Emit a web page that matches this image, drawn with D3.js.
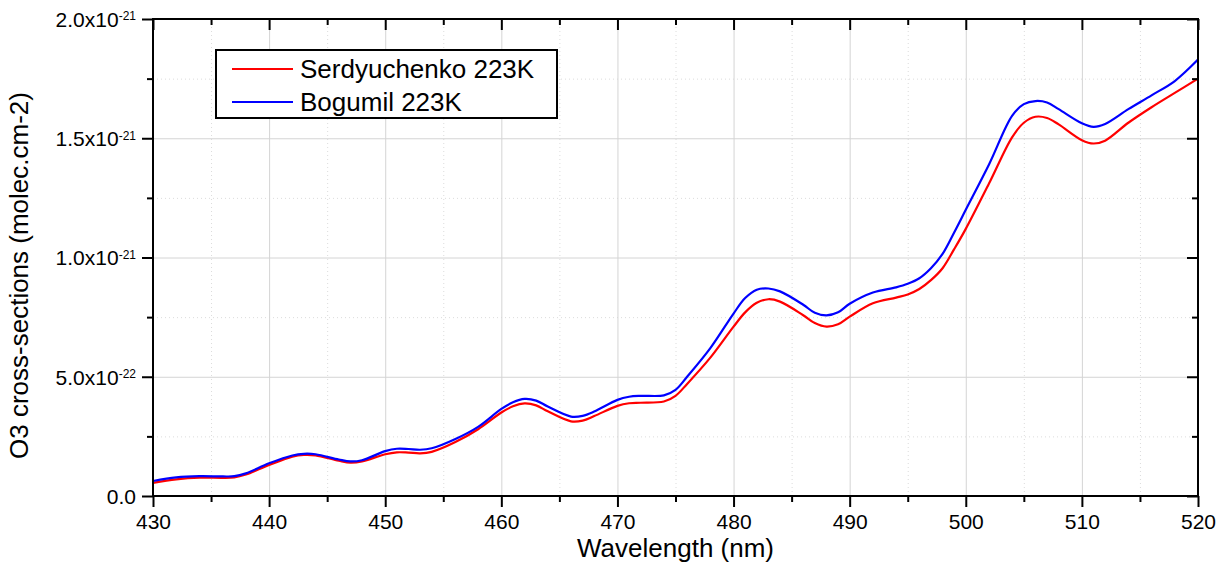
<!DOCTYPE html>
<html lang="en">

<head>
  <meta charset="UTF-8">
  <title>O3 cross-sections</title>
  <script src="https://d3js.org/d3.v7.min.js"></script>
  <style>
    body {
      margin: 0;
      background: #fff;
    }

    text {
      font-family: "Liberation Sans", Arial, sans-serif;
      fill: #000;
    }

    .grid-major line {
      stroke: #d4d4d4;
      stroke-width: 1;
    }

    .grid-minor line {
      stroke: #dcdcdc;
      stroke-width: 1;
      stroke-dasharray: 1, 3;
    }

    .axis path {
      display: none;
    }

    .axis line {
      stroke: #000;
      stroke-width: 2;
    }

    .axis text {
      font-size: 21px;
    }
  </style>
</head>

<body>
  <div id="chart"></div>
  <script>
    // wavelength in nm, cross-sections in units of 1e-21 molec.cm-2
    var wavelengths = [430, 432, 434, 436, 437, 438, 440, 442, 443, 444, 446, 447, 448, 450, 451, 452, 453, 454, 456, 458,
      460, 461, 462, 463, 464, 466, 467, 468, 470, 471, 472, 474, 475, 476, 478, 480, 481, 482, 483, 484,
      486, 487, 488, 489, 490, 492, 494, 495, 496, 497, 498, 499, 500, 502, 504, 505, 506, 507, 508, 510, 511,
      512, 514, 516, 518, 520];

    var serdyuchenko = [0.055, 0.070, 0.077, 0.076, 0.078, 0.090, 0.130, 0.165, 0.172, 0.170, 0.148, 0.140, 0.145, 0.175, 0.183, 0.182, 0.179, 0.185, 0.225, 0.280,
      0.350, 0.376, 0.388, 0.380, 0.355, 0.313, 0.316, 0.335, 0.378, 0.389, 0.391, 0.396, 0.420, 0.470, 0.580, 0.710, 0.770, 0.810, 0.825, 0.815,
      0.758, 0.725, 0.710, 0.720, 0.752, 0.808, 0.832, 0.845, 0.868, 0.905, 0.955, 1.035, 1.120, 1.310, 1.505, 1.565, 1.590, 1.585, 1.558, 1.492, 1.478,
      1.490, 1.565, 1.630, 1.690, 1.750];

    var bogumil = [0.063, 0.078, 0.083, 0.082, 0.083, 0.095, 0.137, 0.170, 0.177, 0.175, 0.153, 0.145, 0.150, 0.188, 0.198, 0.197, 0.194, 0.200, 0.238, 0.290,
      0.365, 0.393, 0.407, 0.400, 0.375, 0.333, 0.336, 0.354, 0.403, 0.416, 0.420, 0.422, 0.445, 0.500, 0.620, 0.765, 0.830, 0.865, 0.870, 0.858,
      0.802, 0.768, 0.757, 0.770, 0.806, 0.853, 0.875, 0.890, 0.913, 0.955, 1.015, 1.105, 1.200, 1.390, 1.595, 1.643, 1.656, 1.650, 1.622, 1.563, 1.548,
      1.560, 1.622, 1.680, 1.740, 1.830];

    var seriesNames = ["Serdyuchenko 223K", "Bogumil 223K"];
    var seriesColors = ["#ff0000", "#0000ff"];

    var xMajor = [430, 440, 450, 460, 470, 480, 490, 500, 510, 520];
    var xMinor = [435, 445, 455, 465, 475, 485, 495, 505, 515];
    var yMajor = [0, 0.5, 1.0, 1.5, 2.0];
    var yMinor = [0.25, 0.75, 1.25, 1.75];
    var yLabels = [["0.0", ""], ["5.0x10", "-22"], ["1.0x10", "-21"], ["1.5x10", "-21"], ["2.0x10", "-21"]];

    var margin = { top: 19, right: 18, bottom: 69, left: 153 },
      width = 1216 - margin.left - margin.right,
      height = 565 - margin.top - margin.bottom;

    var x = d3.scaleLinear().domain([430, 520]).range([0, width]);
    var y = d3.scaleLinear().domain([0, 2.0]).range([height, 0]);

    var svg = d3.select("#chart").append("svg")
      .attr("width", 1216)
      .attr("height", 565)
      .append("g")
      .attr("transform", "translate(" + margin.left + "," + margin.top + ")");

    // grid lines
    svg.append("g").attr("class", "grid-minor")
      .call(d3.axisBottom(x).tickValues(xMinor).tickSize(height).tickFormat(""))
      .select(".domain").remove();
    svg.append("g").attr("class", "grid-minor")
      .call(d3.axisLeft(y).tickValues(yMinor).tickSize(-width).tickFormat(""))
      .select(".domain").remove();
    svg.append("g").attr("class", "grid-major")
      .call(d3.axisBottom(x).tickValues(xMajor.slice(1, -1)).tickSize(height).tickFormat(""))
      .select(".domain").remove();
    svg.append("g").attr("class", "grid-major")
      .call(d3.axisLeft(y).tickValues(yMajor.slice(1, -1)).tickSize(-width).tickFormat(""))
      .select(".domain").remove();

    // curves
    var series = [serdyuchenko, bogumil];
    var line = d3.line()
      .x(function (d) { return x(d[0]); })
      .y(function (d) { return y(d[1]); })
      .curve(d3.curveCatmullRom.alpha(0.5));

    series.forEach(function (vals, k) {
      var pts = wavelengths.map(function (w, i) { return [w, vals[i]]; });
      svg.append("path")
        .datum(pts)
        .attr("fill", "none")
        .attr("stroke", seriesColors[k])
        .attr("stroke-width", 2.2)
        .attr("stroke-linejoin", "round")
        .attr("d", line);
    });

    // axes: major + minor ticks, outward on bottom/left, inward on top/right
    svg.append("g").attr("class", "axis")
      .attr("transform", "translate(0," + height + ")")
      .call(d3.axisBottom(x).tickValues(xMinor).tickSize(6).tickFormat(""));
    svg.append("g").attr("class", "axis")
      .attr("transform", "translate(0," + height + ")")
      .call(d3.axisBottom(x).tickValues(xMajor).tickSize(11).tickPadding(7).tickFormat(d3.format("d")));
    svg.append("g").attr("class", "axis")
      .call(d3.axisTop(x).tickValues(xMinor).tickSize(-6).tickFormat(""));
    svg.append("g").attr("class", "axis")
      .call(d3.axisTop(x).tickValues(xMajor).tickSize(-11).tickFormat(""));

    svg.append("g").attr("class", "axis")
      .call(d3.axisLeft(y).tickValues(yMinor).tickSize(6).tickFormat(""));
    var yAx = svg.append("g").attr("class", "axis")
      .call(d3.axisLeft(y).tickValues(yMajor).tickSize(11).tickPadding(17).tickFormat(""));
    svg.append("g").attr("class", "axis")
      .attr("transform", "translate(" + width + ",0)")
      .call(d3.axisRight(y).tickValues(yMinor).tickSize(-6).tickFormat(""));
    svg.append("g").attr("class", "axis")
      .attr("transform", "translate(" + width + ",0)")
      .call(d3.axisRight(y).tickValues(yMajor).tickSize(-11).tickFormat(""));

    // y tick labels with superscript exponent
    yAx.selectAll(".tick text").each(function (d) {
      var t = d3.select(this).attr("x", -17).attr("dy", "0.35em");
      var lab = yLabels[yMajor.indexOf(d)];
      t.append("tspan").text(lab[0]);
      if (lab[1]) {
        t.append("tspan").attr("dy", "-0.55em").attr("font-size", "12px").text(lab[1]);
      }
    });

    // frame
    svg.append("rect")
      .attr("x", 0).attr("y", 0)
      .attr("width", width).attr("height", height)
      .attr("fill", "none")
      .attr("stroke", "#000")
      .attr("stroke-width", 2);

    // axis titles
    svg.append("text")
      .attr("x", width / 2)
      .attr("y", height + 61)
      .attr("text-anchor", "middle")
      .style("font-size", "26px")
      .text("Wavelength (nm)");

    svg.append("text")
      .attr("transform", "translate(" + (-125) + "," + (height / 2 + 18) + ") rotate(-90)")
      .attr("text-anchor", "middle")
      .style("font-size", "26px")
      .text("O3 cross-sections (molec.cm-2)");

    // legend
    var legend = svg.append("g").attr("transform", "translate(63,31)");
    legend.append("rect")
      .attr("width", 341).attr("height", 68)
      .attr("fill", "#fff")
      .attr("stroke", "#000")
      .attr("stroke-width", 2);
    seriesNames.forEach(function (name, k) {
      var ly = 19 + k * 33;
      legend.append("line")
        .attr("x1", 16).attr("x2", 77)
        .attr("y1", ly).attr("y2", ly)
        .attr("stroke", seriesColors[k])
        .attr("stroke-width", 2.2);
      legend.append("text")
        .attr("x", 84).attr("y", ly)
        .attr("dy", "0.36em")
        .style("font-size", "26px")
        .text(name);
    });
  </script>
</body>

</html>
